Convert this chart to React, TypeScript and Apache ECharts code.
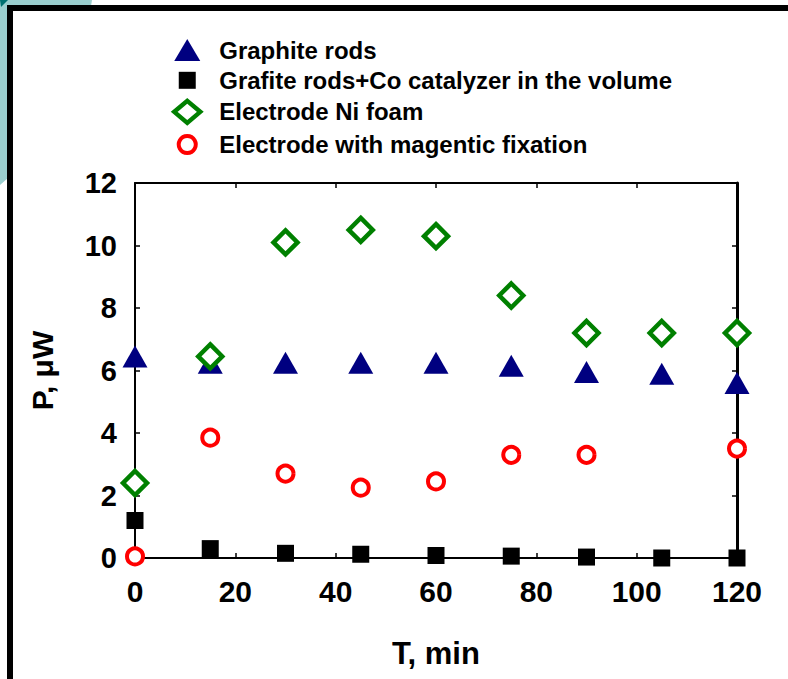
import React, { useEffect, useRef } from "react";
import * as echarts from "echarts";

const timeMin = [0, 15, 30, 45, 60, 75, 90, 105, 120];
const graphiteRods = [6.45, 6.25, 6.25, 6.25, 6.25, 6.15, 5.95, 5.9, 5.6];
const grafiteCo = [1.2, 0.3, 0.15, 0.12, 0.08, 0.06, 0.03, 0, 0];
const niFoam = [2.4, 6.45, 10.1, 10.5, 10.3, 8.4, 7.2, 7.2, 7.2];
const magnetic: (number | null)[] = [0.05, 3.85, 2.7, 2.25, 2.45, 3.3, 3.3, null, 3.5];
const seriesNames = [
  "Graphite rods",
  "Grafite rods+Co catalyzer in the volume",
  "Electrode Ni foam",
  "Electrode with magentic fixation",
];

const FONT = "'Liberation Sans', Arial, sans-serif";

function pairs(vals: (number | null)[]) {
  const out: [number, number][] = [];
  vals.forEach((v, i) => {
    if (v !== null) out.push([timeMin[i], v]);
  });
  return out;
}

export default function App() {
  const ref = useRef<HTMLDivElement>(null);
  useEffect(() => {
    if (!ref.current) return;
    const chart = echarts.init(ref.current, null, { renderer: "svg" });
    const axisLbl = { color: "#000", fontWeight: "bold" as const, fontFamily: FONT };
    chart.setOption({
      animation: false,
      backgroundColor: "#fff",
      grid: { left: 135, right: 51, top: 183, bottom: 121 },
      legend: {
        orient: "vertical",
        left: 167,
        top: 33,
        itemWidth: 26,
        itemHeight: 22,
        itemGap: 6.3,
        selectedMode: false,
        textStyle: {
          color: "#000",
          fontSize: 24,
          fontWeight: "bold",
          fontFamily: FONT,
          lineHeight: 22,
          padding: [0, 0, 0, 14],
        },
        data: [
          {
            name: seriesNames[0],
            icon: "path://M0,0 M26,22 M13,0 L26,22 L0,22 Z",
            itemStyle: { color: "#000080", borderWidth: 0 },
          },
          {
            name: seriesNames[1],
            icon: "path://M0,0 M22,22 M2.5,2.5 L19.5,2.5 L19.5,19.5 L2.5,19.5 Z",
            itemStyle: { color: "#000", borderWidth: 0 },
          },
          { name: seriesNames[2], icon: "diamond", itemStyle: { color: "#fff", borderColor: "#008000", borderWidth: 4.5 } },
          {
            name: seriesNames[3],
            icon: "path://M0,0 M22,22 M11,2.5 A8.5,8.5 0 1 1 10.99,2.5 Z",
            itemStyle: { color: "#fff", borderColor: "#ff0000", borderWidth: 4 },
          },
        ],
      },
      xAxis: [
        {
          type: "value",
          min: 0,
          max: 120,
          interval: 20,
          name: "T, min",
          nameLocation: "middle",
          nameGap: 80,
          nameTextStyle: { ...axisLbl, fontSize: 31 },
          axisLine: { show: true, lineStyle: { color: "#000", width: 2 } },
          axisTick: { show: true, inside: true, length: 5, lineStyle: { color: "#000", width: 1.5 } },
          axisLabel: { ...axisLbl, fontSize: 30, margin: 18 },
          splitLine: { show: false },
        },
        {
          type: "value",
          position: "top",
          min: 0,
          max: 120,
          interval: 20,
          axisLine: { show: true, onZero: false, lineStyle: { color: "#000", width: 2 } },
          axisTick: { show: true, inside: true, length: 5, lineStyle: { color: "#000", width: 1.5 } },
          axisLabel: { show: false },
          splitLine: { show: false },
        },
      ],
      yAxis: [
        {
          type: "value",
          min: 0,
          max: 12,
          interval: 2,
          name: "P, μW",
          nameLocation: "middle",
          nameRotate: 90,
          nameGap: 78,
          nameTextStyle: { ...axisLbl, fontSize: 30 },
          axisLine: { show: true, lineStyle: { color: "#000", width: 2 } },
          axisTick: { show: true, inside: true, length: 5, lineStyle: { color: "#000", width: 1.5 } },
          axisLabel: { ...axisLbl, fontSize: 29, margin: 18 },
          splitLine: { show: false },
        },
        {
          type: "value",
          position: "right",
          min: 0,
          max: 12,
          interval: 2,
          axisLine: { show: true, onZero: false, lineStyle: { color: "#000", width: 3 } },
          axisTick: { show: true, inside: true, length: 5, lineStyle: { color: "#000", width: 1.5 } },
          axisLabel: { show: false },
          splitLine: { show: false },
        },
      ],
      series: [
        {
          name: seriesNames[0],
          type: "scatter",
          clip: false,
          symbol: "triangle",
          symbolSize: [25, 22],
          itemStyle: { color: "#000080", opacity: 1 },
          data: pairs(graphiteRods),
        },
        {
          name: seriesNames[1],
          type: "scatter",
          clip: false,
          symbol: "rect",
          symbolSize: 17,
          itemStyle: { color: "#000", opacity: 1 },
          data: pairs(grafiteCo),
        },
        {
          name: seriesNames[2],
          type: "scatter",
          clip: false,
          symbol: "diamond",
          symbolSize: 24,
          itemStyle: { color: "#fff", borderColor: "#008000", borderWidth: 4.5, opacity: 1 },
          data: pairs(niFoam),
        },
        {
          name: seriesNames[3],
          type: "scatter",
          clip: false,
          symbol: "circle",
          symbolSize: 16,
          itemStyle: { color: "#fff", borderColor: "#ff0000", borderWidth: 4, opacity: 1 },
          data: pairs(magnetic),
        },
      ],
      graphic: [
        { type: "polygon", z: 0, shape: { points: [[0, 0], [92, 0], [91, 6], [0, 6]] }, style: { fill: "#9bcfcf" } },
        { type: "polygon", z: 0, shape: { points: [[0, 0], [8, 0], [8, 178], [0, 185]] }, style: { fill: "#9bcfcf" } },
        { type: "polygon", z: 1, shape: { points: [[0, 0], [8, 0], [1, 7]] }, style: { fill: "#007070" } },
        { type: "rect", z: 2, shape: { x: 7, y: 5, width: 781, height: 6 }, style: { fill: "#000" } },
        { type: "rect", z: 2, shape: { x: 7, y: 5, width: 6, height: 674 }, style: { fill: "#000" } },
      ],
    });
    return () => chart.dispose();
  }, []);
  return (
    <div
      ref={ref}
      style={{ position: "absolute", left: 0, top: 0, width: 788, height: 679 }}
    />
  );
}
